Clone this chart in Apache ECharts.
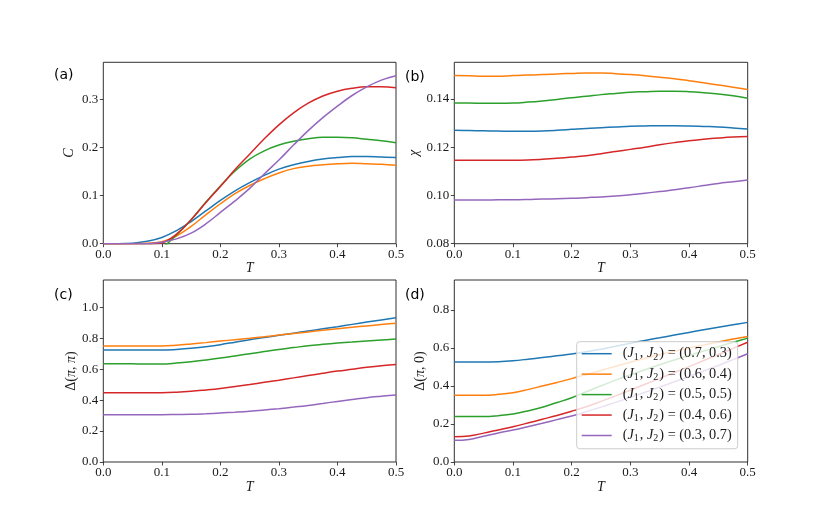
<!DOCTYPE html>
<html>
<head>
<meta charset="utf-8">
<script src="https://cdn.jsdelivr.net/npm/echarts@6/dist/echarts.min.js"></script>
<style>
  html, body { margin: 0; background: #fff; }
  #chart { width: 830px; height: 519px; }
</style>
</head>
<body>
<div id="chart"></div>
<script>
// temperature grid shared by all panels
const T = [0, 0.025, 0.05, 0.075, 0.1, 0.125, 0.15, 0.175, 0.2, 0.225, 0.25,
  0.275, 0.3, 0.325, 0.35, 0.375, 0.4, 0.425, 0.45, 0.475, 0.5]

// couplings, one curve each
const J1 = [0.7, 0.6, 0.5, 0.4, 0.3]
const J2 = [0.3, 0.4, 0.5, 0.6, 0.7]
const colors = ['#1f77b4', '#ff7f0e', '#2ca02c', '#d62728', '#9467bd']

const xTicks = [0, 0.1, 0.2, 0.3, 0.4, 0.5]

// (a) specific heat C
const heatC = [
  [0, 0, 0.001, 0.005, 0.013, 0.027, 0.046, 0.068, 0.090, 0.110, 0.127, 0.142, 0.155, 0.164, 0.171, 0.176, 0.179, 0.181, 0.181, 0.180, 0.179],
  [0, 0, 0, 0.001, 0.004, 0.016, 0.036, 0.060, 0.083, 0.104, 0.121, 0.135, 0.147, 0.156, 0.161, 0.164, 0.166, 0.167, 0.166, 0.165, 0.163],
  [null, null, null, null, -0.010, 0.018, 0.050, 0.086, 0.120, 0.151, 0.176, 0.193, 0.205, 0.213, 0.218, 0.221, 0.221, 0.220, 0.217, 0.214, 0.210],
  [0, 0, 0, 0, 0.002, 0.020, 0.050, 0.085, 0.119, 0.154, 0.186, 0.218, 0.247, 0.272, 0.292, 0.307, 0.317, 0.323, 0.326, 0.326, 0.324],
  [0, 0, 0, 0, 0.003, 0.010, 0.022, 0.041, 0.065, 0.089, 0.115, 0.145, 0.174, 0.205, 0.235, 0.262, 0.286, 0.308, 0.326, 0.340, 0.349]
]
const heatTicks = [0, 0.1, 0.2, 0.3]

// (b) susceptibility chi
const chi = [
  [0.1270, 0.1269, 0.1268, 0.1267, 0.1266, 0.1266, 0.1267, 0.1270, 0.1274, 0.1278, 0.1281, 0.1284, 0.1287, 0.1288, 0.1289, 0.1289, 0.1288, 0.1286, 0.1284, 0.1280, 0.1275],
  [0.1497, 0.1496, 0.1494, 0.1494, 0.1497, 0.1499, 0.1501, 0.1504, 0.1506, 0.1508, 0.1508, 0.1505, 0.1501, 0.1496, 0.1490, 0.1484, 0.1476, 0.1467, 0.1458, 0.1449, 0.1439],
  [0.1383, 0.1383, 0.1382, 0.1382, 0.1383, 0.1387, 0.1392, 0.1398, 0.1405, 0.1411, 0.1418, 0.1423, 0.1428, 0.1430, 0.1432, 0.1432, 0.1430, 0.1426, 0.1421, 0.1413, 0.1403],
  [0.1146, 0.1146, 0.1146, 0.1146, 0.1146, 0.1147, 0.1150, 0.1154, 0.1159, 0.1165, 0.1173, 0.1182, 0.1191, 0.1200, 0.1210, 0.1219, 0.1227, 0.1233, 0.1238, 0.1242, 0.1244],
  [0.0981, 0.0981, 0.0981, 0.0982, 0.0982, 0.0983, 0.0985, 0.0986, 0.0988, 0.0991, 0.0994, 0.0998, 0.1003, 0.1009, 0.1016, 0.1024, 0.1032, 0.1041, 0.1050, 0.1057, 0.1064]
]
const chiTicks = [0.08, 0.10, 0.12, 0.14]

// (c) gap at (pi, pi)
const gapPiPi = [
  [0.724, 0.724, 0.724, 0.724, 0.724, 0.728, 0.735, 0.746, 0.759, 0.775, 0.791, 0.805, 0.819, 0.833, 0.847, 0.861, 0.875, 0.890, 0.905, 0.919, 0.933],
  [0.750, 0.750, 0.750, 0.750, 0.750, 0.755, 0.763, 0.772, 0.782, 0.791, 0.800, 0.810, 0.821, 0.831, 0.841, 0.852, 0.862, 0.871, 0.880, 0.889, 0.897],
  [0.636, 0.636, 0.635, 0.634, 0.634, 0.640, 0.649, 0.660, 0.672, 0.686, 0.700, 0.714, 0.728, 0.740, 0.752, 0.761, 0.769, 0.776, 0.783, 0.789, 0.795],
  [0.448, 0.448, 0.448, 0.448, 0.448, 0.451, 0.457, 0.466, 0.476, 0.488, 0.501, 0.515, 0.529, 0.544, 0.559, 0.574, 0.588, 0.600, 0.612, 0.622, 0.631],
  [0.306, 0.306, 0.306, 0.306, 0.306, 0.307, 0.308, 0.312, 0.317, 0.322, 0.328, 0.336, 0.345, 0.355, 0.366, 0.379, 0.392, 0.404, 0.416, 0.425, 0.433]
]
const gapPiPiTicks = [0, 0.2, 0.4, 0.6, 0.8, 1.0]

// (d) gap at (pi, 0)
const gapPi0 = [
  [0.526, 0.526, 0.526, 0.528, 0.533, 0.541, 0.550, 0.559, 0.568, 0.580, 0.594, 0.609, 0.625, 0.640, 0.654, 0.668, 0.682, 0.696, 0.709, 0.722, 0.735],
  [0.351, 0.351, 0.351, 0.356, 0.365, 0.381, 0.400, 0.419, 0.439, 0.461, 0.482, 0.504, 0.525, 0.545, 0.565, 0.583, 0.600, 0.616, 0.632, 0.647, 0.661],
  [0.239, 0.239, 0.239, 0.244, 0.253, 0.269, 0.288, 0.313, 0.338, 0.370, 0.401, 0.431, 0.459, 0.486, 0.512, 0.537, 0.561, 0.584, 0.607, 0.630, 0.652],
  [0.133, 0.137, 0.152, 0.169, 0.186, 0.205, 0.225, 0.245, 0.267, 0.291, 0.319, 0.348, 0.378, 0.409, 0.440, 0.471, 0.502, 0.534, 0.566, 0.598, 0.630],
  [0.114, 0.119, 0.136, 0.153, 0.168, 0.186, 0.204, 0.223, 0.242, 0.265, 0.289, 0.314, 0.340, 0.367, 0.394, 0.422, 0.450, 0.479, 0.508, 0.539, 0.570]
]
const gapPi0Ticks = [0, 0.2, 0.4, 0.6, 0.8]

const SERIF = 'Liberation Serif'
const ink = '#1a1a1a'

const names = J1.map((j, i) => `(J1, J2) = (${j}, ${J2[i]})`)

const panels = [
  { id: 'a', grid: { left: 103.3, top: 62.3, width: 292.7, height: 181.4 }, data: heatC,
    min: 0, max: 0.377, ticks: heatTicks, digits: 1, name: '{i|C}', gap: 27 },
  { id: 'b', grid: { left: 454.3, top: 62.3, width: 293.4, height: 181.4 }, data: chi,
    min: 0.08, max: 0.1552, ticks: chiTicks, digits: 2, name: '{i|χ}', gap: 33 },
  { id: 'c', grid: { left: 103.3, top: 280, width: 292.7, height: 182 }, data: gapPiPi,
    min: 0, max: 1.177, ticks: gapPiPiTicks, digits: 1, name: '{u|Δ(}{i|π}{u|, }{i|π}{u|)}', gap: 25 },
  { id: 'd', grid: { left: 454.3, top: 280, width: 293.4, height: 182 }, data: gapPi0,
    min: 0, max: 0.958, ticks: gapPi0Ticks, digits: 1, name: '{u|Δ(}{i|π}{u|, 0)}', gap: 27 }
]

const richName = {
  i: { fontFamily: SERIF, fontStyle: 'italic', fontSize: 14, color: ink },
  u: { fontFamily: SERIF, fontSize: 14, color: ink }
}

const tickStyle = { show: true, length: 3.5, lineStyle: { color: ink, width: 0.8 } }

const option = {
  animation: false,
  backgroundColor: '#fff',
  color: colors,
  grid: panels.map(p => ({
    ...p.grid, show: true, borderColor: ink, borderWidth: 0.9, backgroundColor: 'transparent'
  })),
  xAxis: panels.map((p, k) => ({
    type: 'value', gridIndex: k, min: 0, max: 0.5, interval: 0.1,
    name: '{i|T}', nameLocation: 'middle', nameGap: 9,
    nameTextStyle: { rich: richName },
    axisLine: { show: false },
    axisTick: { ...tickStyle, customValues: xTicks },
    axisLabel: {
      customValues: xTicks, margin: 4, color: ink, fontFamily: SERIF, fontSize: 13,
      formatter: v => v.toFixed(1)
    },
    splitLine: { show: false }
  })),
  yAxis: panels.map((p, k) => ({
    type: 'value', gridIndex: k, min: p.min, max: p.max,
    name: p.name, nameLocation: 'middle', nameGap: p.gap, nameRotate: 90,
    nameTextStyle: { rich: richName },
    axisLine: { show: false },
    axisTick: { ...tickStyle, customValues: p.ticks },
    axisLabel: {
      customValues: p.ticks, margin: 5, color: ink, fontFamily: SERIF, fontSize: 13,
      formatter: v => v.toFixed(p.digits)
    },
    splitLine: { show: false }
  })),
  legend: {
    orient: 'vertical', left: 576.7, top: 341.7,
    padding: [5, 6, 5, 5], itemGap: 5.2, itemWidth: 30, itemHeight: 1.5,
    icon: 'rect',
    backgroundColor: 'rgba(255,255,255,0.8)', borderColor: '#cccccc', borderWidth: 1, borderRadius: 3,
    data: names,
    formatter: name => {
      const m = name.match(/\(([^()]*), ([^()]*)\)$/)
      return `{t|(}{i|J}{s|1}{t|, }{i|J}{s|2}{t|) = (${m[1]}, ${m[2]})}`
    },
    textStyle: {
      padding: [0, 0, 0, 6],
      rich: {
        t: { fontFamily: SERIF, fontSize: 14.3, color: ink, lineHeight: 16.5 },
        i: { fontFamily: SERIF, fontStyle: 'italic', fontSize: 14.3, color: ink, lineHeight: 16.5 },
        s: { fontFamily: SERIF, fontSize: 10, color: ink, lineHeight: 10, verticalAlign: 'bottom', padding: [0, 1, 0, 0] }
      }
    }
  },
  graphic: [
    ['(a)', 54, 77.5], ['(b)', 405, 79], ['(c)', 54, 297], ['(d)', 405, 297]
  ].map(([text, x, y]) => ({
    type: 'text', left: x, top: y - 9,
    style: { text, font: '14px "DejaVu Sans"', fill: '#000' }
  })),
  series: []
}

panels.forEach((p, k) => {
  p.data.forEach((vals, i) => {
    option.series.push({
      name: names[i], type: 'line', xAxisIndex: k, yAxisIndex: k,
      data: T.map((t, j) => [t, vals[j]]),
      symbol: 'none', smooth: 0.4, clip: true,
      lineStyle: { width: 1.5, color: colors[i] }, itemStyle: { color: colors[i] }
    })
  })
})

const chart = echarts.init(document.getElementById('chart'))
chart.setOption(option)
</script>
</body>
</html>
